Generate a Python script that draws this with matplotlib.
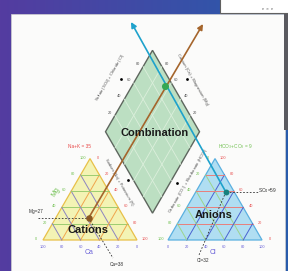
import numpy as np
import matplotlib.pyplot as plt
from matplotlib.patches import Polygon, Rectangle

# sample composition (%)
ca, mg, nak = 38, 27, 35
cl, so4, hco3 = 32, 59, 9

ticks = [0, 20, 40, 60, 80, 100]
grid_steps = [20, 40, 60, 80]
diamond_ticks = [20, 40, 60, 80]

H = np.sqrt(3) / 2
GAP = 0.33
OFF = 1 + GAP
S = 94.0          # px per unit
X0, Y0 = 43, 240  # pixel of cation bottom-left corner

plt.rcParams['font.family'] = ['Liberation Sans', 'DejaVu Sans']


def px(x, y):
    return ((x - X0) / S, (Y0 - y) / S)


def cat_xy(ca_, mg_, na_):
    return np.array([na_ / 100 + mg_ / 200, mg_ / 100 * H])


def an_xy(cl_, so4_):
    return np.array([OFF + cl_ / 100 + so4_ / 200, so4_ / 100 * H])


fig = plt.figure(figsize=(2.88, 2.71), dpi=100)
ax = fig.add_axes([0, 0, 1, 1])
xl = (-X0 / S, (288 - X0) / S)
yl = ((Y0 - 271) / S, Y0 / S)
ax.set_xlim(xl)
ax.set_ylim(yl)
ax.axis('off')

# slide background gradient
grad = np.linspace(0, 1, 256)
c0 = np.array([84, 60, 160]) / 255
c1 = np.array([40, 92, 172]) / 255
img = (c0[None, :] * (1 - grad[:, None]) + c1[None, :] * grad[:, None])[None, :, :]
ax.imshow(img, extent=[xl[0], xl[1], yl[0], yl[1]], aspect='auto', zorder=0)

# white panel
p0 = px(11, 271)
p1 = px(285, 14)
ax.add_patch(Rectangle(p0, p1[0] - p0[0], p1[1] - p0[1], fc='#fbfbfa',
                       ec='#d0d0d0', lw=0.5, zorder=1))
q0 = px(284, 130)
q1 = px(288, 14)
ax.add_patch(Rectangle(q0, q1[0] - q0[0], q1[1] - q0[1], fc='#5a5a60', lw=0, zorder=1))
r0 = px(220, 13)
r1 = px(290, -2)
ax.add_patch(Rectangle(r0, r1[0] - r0[0], r1[1] - r0[1], fc='white',
                       ec='#606060', lw=0.8, zorder=1))
ax.text(*px(268, 9), 'e  e  e', fontsize=3, color='#707070', ha='center', va='center', zorder=2)

# ---- cation triangle
cat_poly = [cat_xy(100, 0, 0), cat_xy(0, 0, 100), cat_xy(0, 100, 0)]
ax.add_patch(Polygon(cat_poly, closed=True, fc='#f3f3b4', ec='#e8c048', lw=0.9, zorder=2))
for k in grid_steps:
    a, b = cat_xy(100 - k, k, 0), cat_xy(0, k, 100 - k)
    ax.plot([a[0], b[0]], [a[1], b[1]], color='#9ccc70', lw=0.7, zorder=3)
    a, b = cat_xy(k, 0, 100 - k), cat_xy(k, 100 - k, 0)
    ax.plot([a[0], b[0]], [a[1], b[1]], color='#8c84c0', lw=0.7, zorder=3)
    a, b = cat_xy(100 - k, 0, k), cat_xy(0, 100 - k, k)
    ax.plot([a[0], b[0]], [a[1], b[1]], color='#f0a44c', lw=0.7, zorder=3)

# ---- anion triangle
an_poly = [an_xy(0, 0), an_xy(100, 0), an_xy(0, 100)]
ax.add_patch(Polygon(an_poly, closed=True, fc='#b0def2', ec='#5ab0e0', lw=0.9, zorder=2))
for k in grid_steps:
    a, b = an_xy(0, k), an_xy(100 - k, k)
    ax.plot([a[0], b[0]], [a[1], b[1]], color='#e8807c', lw=0.7, zorder=3)
    a, b = an_xy(k, 0), an_xy(k, 100 - k)
    ax.plot([a[0], b[0]], [a[1], b[1]], color='#4a62d0', lw=0.7, zorder=3)
    a, b = an_xy(100 - k, 0), an_xy(0, 100 - k)
    ax.plot([a[0], b[0]], [a[1], b[1]], color='#9cd48c', lw=0.7, zorder=3)

# ---- diamond
B = np.array([1 + GAP / 2, GAP * H])
L = np.array([0.5 + GAP / 2, H * (1 + GAP)])
T = np.array([1 + GAP / 2, H * (2 + GAP)])
R = np.array([1.5 + GAP / 2, H * (1 + GAP)])
ax.add_patch(Polygon([B, L, T, R], closed=True, fc='#bcdfc2', ec='#5e665e', lw=1.0, zorder=2))
for k in grid_steps:
    f = k / 100
    a, b = B + f * (L - B), R + f * (T - R)
    ax.plot([a[0], b[0]], [a[1], b[1]], color='#dcefdc', lw=0.6, zorder=3)
    a, b = B + f * (R - B), L + f * (T - L)
    ax.plot([a[0], b[0]], [a[1], b[1]], color='#dcefdc', lw=0.6, zorder=3)

# ---- sample points and projections
pc = cat_xy(ca, mg, nak)
pa = an_xy(cl, so4)
d1 = np.array([0.5, H])
d2 = np.array([-0.5, H])
ts = np.linalg.solve(np.column_stack([d1, -d2]), pa - pc)
pd = pc + ts[0] * d1

ax.annotate('', xy=px(203, 24), xytext=pc, zorder=6,
            arrowprops=dict(arrowstyle='-|>', color='#a5652c', lw=1.2,
                            mutation_scale=8, shrinkA=0, shrinkB=0))
ax.annotate('', xy=px(131, 22), xytext=pa, zorder=6,
            arrowprops=dict(arrowstyle='-|>', color='#1ea2cc', lw=1.2,
                            mutation_scale=8, shrinkA=0, shrinkB=0))

dash = dict(color='#303030', lw=0.6, ls=(0, (2, 2)), zorder=5)
ax.plot([px(38, 0)[0], pc[0]], [pc[1], pc[1]], **dash)
e = px(113, 258)
ax.plot([pc[0], e[0]], [pc[1], e[1]], **dash)
e = px(199, 255)
ax.plot([pa[0], e[0]], [pa[1], e[1]], **dash)
ax.plot([pa[0], px(258, 0)[0]], [pa[1], pa[1]], **dash)

ax.scatter(*pc, s=22, color='#8a5a22', zorder=7, lw=0)
ax.scatter(*pa, s=18, color='#16807e', zorder=7, lw=0)
ax.scatter(*pd, s=26, color='#36a852', zorder=7, lw=0)

# ---- tick labels
tk = dict(fontsize=2.8, ha='center', va='center', zorder=4)
for v in ticks:
    x, y = cat_xy(v, 0, 100 - v)
    ax.text(x, y - 0.075, str(v), color='#6a62d8', **tk)
    x, y = cat_xy(0, 100 - v, v)
    ax.text(x + 0.08, y + 0.01, str(v), color='#e85050', **tk)
    x, y = cat_xy(100 - v, v, 0)
    ax.text(x - 0.08, y + 0.01, str(v), color='#70c050', **tk)
    x, y = an_xy(v, 0)
    ax.text(x, y - 0.075, str(v), color='#6a62d8', **tk)
    x, y = an_xy(100 - v, v)
    ax.text(x + 0.08, y + 0.01, str(v), color='#e85050', **tk)
    x, y = an_xy(0, 100 - v)
    ax.text(x - 0.08, y + 0.01, str(v), color='#70c050', **tk)

nl = np.array([-H, 0.5]) * 0.06
nr = np.array([H, 0.5]) * 0.06
for v in diamond_ticks:
    f = v / 100
    a = L + f * (T - L) + nl
    ax.text(a[0], a[1], str(v), color='#505050', **tk)
    a = R + f * (T - R) + nr
    ax.text(a[0], a[1], str(v), color='#505050', **tk)

# ---- diamond side titles
side = dict(fontsize=3.0, color='#505050', ha='center', va='center', zorder=4)
ax.text(*px(110, 78), 'Sulfate (SO$_4$) + Chloride (Cl)', rotation=60, **side)
ax.text(*px(193, 80), 'Calcium (Ca) + Magnesium (Mg)', rotation=-60, **side)
ax.text(*px(119, 182), 'Sodium (Na) + Potassium (K)', rotation=-60, **side)
ax.text(*px(188, 181), 'Carbonate (CO$_3$) + Bicarbonate (HCO$_3$)', rotation=60, **side)
for p in [(121, 79), (187, 79), (128, 180), (177, 183)]:
    ax.scatter(*px(*p), s=4, color='black', zorder=5, lw=0)

# ---- main labels
big = dict(fontsize=8, fontweight='bold', color='#1a1a1a', ha='center', va='center', zorder=8)
ax.text(*px(155, 133), 'Combination', **big)
ax.text(*px(88, 230), 'Cations', **big)
ax.text(*px(214, 215), 'Anions', **big)

ax.text(*px(89, 253), 'Ca', fontsize=5, color='#6a62d8', ha='center', va='center', zorder=4)
ax.text(*px(213, 253), 'Cl', fontsize=5, color='#6a62d8', ha='center', va='center', zorder=4)
ax.text(*px(56, 192), 'Mg', fontsize=5, color='#70c050', rotation=60,
        ha='center', va='center', zorder=4)

sm = dict(fontsize=3.4, ha='center', va='center', zorder=6)
ax.text(*px(80, 147), 'Na+K = 35', color='#e84848', **sm)
ax.text(*px(235, 147), 'HCO$_3$+CO$_3$ = 9', color='#70c050', **sm)
ax.text(*px(36, 212), 'Mg=27', color='#303030', **sm)
ax.text(*px(117, 265), 'Ca=38', color='#303030', **sm)
ax.text(*px(203, 261), 'Cl=32', color='#303030', **sm)
ax.text(*px(267, 191), 'SO$_4$=59', color='#303030', **sm)

fig.savefig('out.png', dpi=100)
